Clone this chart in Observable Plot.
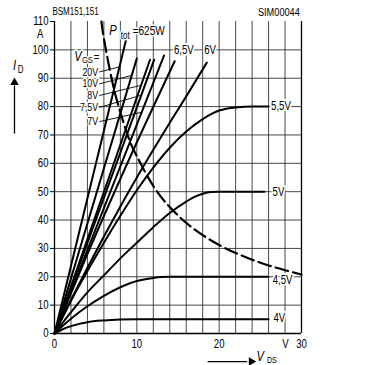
<!DOCTYPE html>
<html><head><meta charset="utf-8">
<script src="https://cdn.jsdelivr.net/npm/d3@7"></script>
<script src="https://cdn.jsdelivr.net/npm/@observablehq/plot@0.6"></script>
<style>
body{margin:0;background:#fff}
svg{display:block}
</style>
</head><body><div id="chart"></div>
<script>
// ---- data (V_DS in V, I_D in A) ----
const vgs20  = [[0,0],[8.9,106]];
const vgs10  = [[0,0],[10,97]];
const vgs8   = [[0,0],[11.6,96.5]];
const vgs7_5 = [[0,0],[12.1,96.5]];
const vgs7   = [[0,0],[13.3,98]];
const vgs6_5 = [[0,0],[4,28],[9,61],[14.6,96]];
const vgs6   = [[0,0],[2,11.8],[4,23.2],[6,34.2],[8,44.8],[10,55],[12,64.8],[14,74.3],[16,83.6],[18.5,95.5]];
const vgs5_5 = [[0,0],[2,11.5],[4,22],[6,32],[8,41.5],[10,50.5],[12,58.5],[14,65.5],[16,71.2],[18,75.6],[20,78.6],[22,79.7],[24,80],[26,80]];
const vgs5   = [[0,0],[2,7.5],[4,14.5],[6,20.5],[8,26.5],[10,32],[12,37.5],[14,42.5],[16,46.5],[17,48.2],[18,49.3],[19,49.9],[20,50],[25.5,50]];
const vgs4_5 = [[0,0],[1,2.7],[2,5.2],[4,9.6],[6,13.3],[8,16.3],[10,18.5],[12,19.6],[13,19.9],[14,20],[26,20]];
const vgs4   = [[0,0],[1,1.5],[2,2.6],[3,3.4],[4,4],[6,4.6],[8,4.9],[10,5],[26,5]];
const ptotV  = [5.7,6,7,8,9,10,12,14,16,18,20,22,24,26,28,30];
const ptotI  = [110,104,89,78,69,62.5,52,44.6,39,34.7,31.2,28.4,26,24,22.3,20.8];
const leftLabels  = ["20V","10V","8V","7,5V","7V"];
const rightLabels = ["6,5V","6V","5,5V","5V","4,5V","4V"];
const xTicks = [0,10,20,30];
const yTicks = [0,10,20,30,40,50,60,70,80,90,100,110];
const gridX  = [0,2,4,6,8,10,12,14,16,18,20,22,24,26,28,30];
const gridY  = [10,20,30,40,50,60,70,80,90,100];

// ---- build tables ----
const curves = [
  ["20V",vgs20],["10V",vgs10],["8V",vgs8],["7,5V",vgs7_5],["7V",vgs7],
  ["6,5V",vgs6_5],["6V",vgs6],["5,5V",vgs5_5],["5V",vgs5],["4,5V",vgs4_5],["4V",vgs4]
];
const rows = curves.flatMap(([k,pts]) => pts.map(([x,y]) => ({k,x,y})));
const ptot = ptotV.map((v,i) => ({x:v, y:ptotI[i]}));

// x on a curve at a given y (linear interpolation)
function xAt(pts, y){
  for (let i=1;i<pts.length;i++){
    const [x0,y0]=pts[i-1],[x1,y1]=pts[i];
    if (y>=y0 && y<=y1) return x0+(x1-x0)*(y-y0)/(y1-y0);
  }
  return pts[pts.length-1][0];
}
const leftY = [92.2,88.0,83.9,79.7,74.7];
const leftTargetY = [94,91,87.5,84,78];
const leftCurves = [vgs20,vgs10,vgs8,vgs7_5,vgs7];
const leftTbl = leftLabels.map((t,i)=>({t, x:5.3, y:leftY[i], x2:xAt(leftCurves[i], leftTargetY[i]), y2:leftTargetY[i]}));
const rightPos = [[15.7,100],[18.9,100],[27.5,80],[27.2,50],[27.7,18.7],[27.3,5.3]];
const rightTbl = rightLabels.map((t,i)=>({t, x:rightPos[i][0], y:rightPos[i][1]}));

const FONT = "'Liberation Sans',Arial,sans-serif";
const SX = 0.8; // horizontal glyph squeeze

const chart = Plot.plot({
  width: 378, height: 365,
  marginLeft: 54, marginRight: 77, marginTop: 21, marginBottom: 32,
  style: {fontFamily: FONT, fontSize: "11.5px", color: "#000", background: "#fff"},
  x: {domain: [0,30]},
  y: {domain: [0,110]},
  marks: [
    // grid
    Plot.ruleX(gridX, {x: d=>d, y1: 0, y2: 110, stroke: "#333", strokeWidth: 0.9}),
    Plot.ruleY(gridY, {y: d=>d, x1: 0, x2: 30, stroke: "#333", strokeWidth: 0.9}),
    Plot.ruleX([0,30], {y1:0, y2:110, stroke:"#000", strokeWidth:1.3}),
    Plot.ruleY([0], {x1:0, x2:30, stroke:"#000", strokeWidth:1.3}),
    // axes
    Plot.axisY({ticks: yTicks, tickSize: 4, tickPadding: 2, label: null, fontSize: 12}),
    Plot.axisX({ticks: xTicks, tickSize: 0, tickPadding: 6, label: null, fontSize: 12}),
    // P_tot hyperbola
    Plot.line(ptot, {x:"x", y:"y", curve:"natural", stroke:"#000", strokeWidth:2.2, strokeDasharray:"13,5"}),
    // curves
    Plot.line(rows, {x:"x", y:"y", z:"k", curve:"monotone-x", stroke:"#000", strokeWidth:2}),
    // left label leaders
    Plot.link(leftTbl, {x1: d=>d.x+0.15, y1:"y", x2:"x2", y2:"y2", stroke:"#000", strokeWidth:0.9}),
    Plot.text(leftTbl, {x:"x", y:"y", text:"t", textAnchor:"end", fontSize:11, stroke:"white", strokeWidth:3, fill:"#000"}),
    Plot.text(rightTbl, {x:"x", y:"y", text:"t", fontSize:12, stroke:"white", strokeWidth:4, fill:"#000"}),
    // V_GS=
    Plot.text(["V"], {x:2.85, y:97.8, text:d=>d, fontSize:14, fontStyle:"italic", stroke:"white", strokeWidth:3, fill:"#000"}),
    Plot.text(["GS"], {x:4.0, y:96.5, text:d=>d, fontSize:9.5, stroke:"white", strokeWidth:3, fill:"#000"}),
    Plot.text(["="], {x:5.1, y:97.4, text:d=>d, fontSize:12, stroke:"white", strokeWidth:3, fill:"#000"}),
    // P_tot = 625W
    Plot.text(["P"], {x:7.1, y:106.8, text:d=>d, fontSize:14, fontStyle:"italic", stroke:"white", strokeWidth:3, fill:"#000"}),
    Plot.text(["tot"], {x:8.6, y:104.8, text:d=>d, fontSize:10, stroke:"white", strokeWidth:3, fill:"#000"}),
    Plot.text(["=625W"], {x:9.5, y:106.8, text:d=>d, textAnchor:"start", fontSize:12.5, stroke:"white", strokeWidth:3, fill:"#000"}),
    // header texts
    Plot.text(["BSM151,151"], {x:-0.25, y:113.3, text:d=>d, textAnchor:"start", fontSize:10}),
    Plot.text(["SIM00044"], {x:29.8, y:113.3, text:d=>d, textAnchor:"end", fontSize:11.5}),
    // units
    Plot.text(["A"], {x:-1.75, y:105.4, text:d=>d, fontSize:12}),
    Plot.text(["V"], {x:28.05, y:-3.6, text:d=>d, fontSize:12}),
    // y axis label I_D with arrow
    Plot.text(["I"], {x:-4.85, y:94.5, text:d=>d, fontSize:14, fontStyle:"italic"}),
    Plot.text(["D"], {x:-4.1, y:93.0, text:d=>d, fontSize:10}),
    Plot.link([0], {x1:-4.86, x2:-4.86, y1:70.5, y2:87.5, stroke:"#000", strokeWidth:1.3}),
    Plot.dot([0], {x:-4.86, y:88.5, symbol:"triangle", r:3.2, fill:"#000", stroke:null}),
    // x axis label V_DS with arrow
    Plot.link([0], {x1:18.6, x2:23.4, y1:-9.9, y2:-9.9, stroke:"#000", strokeWidth:1.3}),
    Plot.dot([0], {x:23.9, y:-9.9, symbol:"triangle", rotate:90, r:3.2, fill:"#000", stroke:null}),
    Plot.text(["V"], {x:25.0, y:-8.1, text:d=>d, fontSize:14, fontStyle:"italic"}),
    Plot.text(["DS"], {x:26.4, y:-9.4, text:d=>d, fontSize:9})
  ]
});
// narrow the glyphs to mimic the condensed DIN lettering of the original
chart.querySelectorAll("text").forEach(t => {
  const tr = t.getAttribute("transform");
  const x = t.getAttribute("x");
  if (x !== null && !isNaN(+x)) t.setAttribute("x", +x / SX);
  t.setAttribute("transform", (tr ? tr + " " : "") + `scale(${SX},1)`);
});
document.getElementById("chart").appendChild(chart);
</script>
</body></html>
